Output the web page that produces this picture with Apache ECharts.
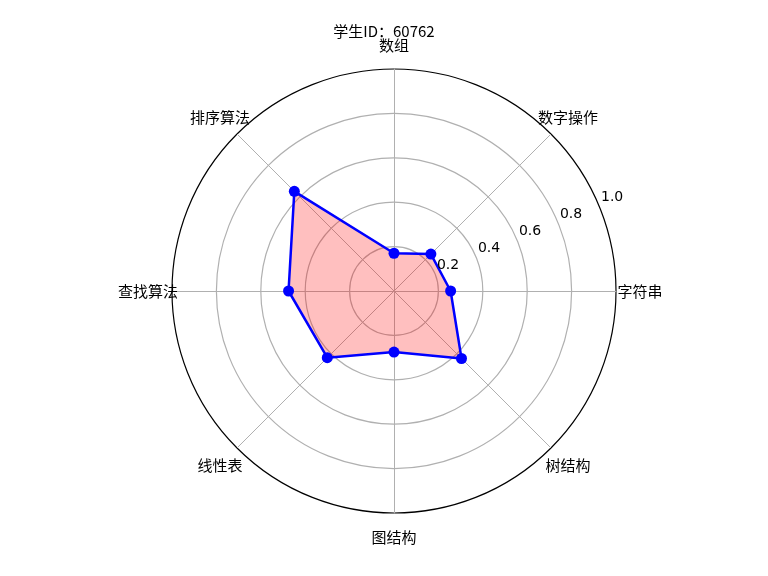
<!DOCTYPE html>
<html>
<head>
<meta charset="utf-8">
<script src="https://cdn.jsdelivr.net/npm/echarts@6/dist/echarts.min.js"></script>
<style>
    html, body { margin: 0; padding: 0; background: #fff; }
    #chart { width: 768px; height: 576px; }
</style>
</head>
<body>
<div id="chart"></div>
<script>
// 知识点（顺时针，从正上方开始）
var topics = ['数组', '数字操作', '字符串', '树结构', '图结构', '线性表', '查找算法', '排序算法'];
// 掌握程度
var scores = [0.17, 0.235, 0.255, 0.43, 0.275, 0.425, 0.475, 0.635];
// 半径刻度
var rTicks = [0.2, 0.4, 0.6, 0.8, 1.0];
var studentId = '60762';

// echarts 雷达图是逆时针排的，这里把顺序翻一下（第一个保持在正上方）
function ccw(arr) {
    return [arr[0]].concat(arr.slice(1).reverse());
}

var myChart = echarts.init(document.getElementById('chart'));

var cjk = '"Noto Sans CJK SC", "DejaVu Sans", sans-serif';

var option = {
    animation: false,
    title: {
        text: '学生ID：' + studentId,
        left: 'center',
        top: 19,
        textStyle: {
            fontFamily: cjk,
            fontSize: 15,
            fontWeight: 'normal',
            color: '#000'
        }
    },
    radar: {
        center: [394, 291],
        radius: 222,
        startAngle: 90,
        shape: 'circle',
        splitNumber: 5,
        nameGap: 24,
        indicator: ccw(topics).map(function (t) {
            return { name: t, min: 0, max: 1 };
        }),
        axisName: {
            color: '#000',
            fontFamily: cjk,
            fontSize: 15,
            align: 'center',
            verticalAlign: 'middle'
        },
        axisLine: {
            lineStyle: { color: '#b0b0b0', width: 1 }
        },
        splitLine: {
            lineStyle: {
                color: ['#b0b0b0', '#b0b0b0', '#b0b0b0', '#b0b0b0', '#b0b0b0', '#000000'],
                width: 1.2
            }
        },
        splitArea: { show: false }
    },
    // 只用来画半径刻度标签（22.5° 方向）
    polar: {
        center: [407, 282],
        radius: 222
    },
    angleAxis: {
        type: 'value',
        min: 0,
        max: 360,
        startAngle: 22.5,
        show: false
    },
    radiusAxis: {
        type: 'value',
        min: 0,
        max: 1,
        interval: 0.2,
        z: 10,
        axisLine: { show: false },
        axisTick: { show: false },
        splitLine: { show: false },
        axisLabel: {
            margin: 0,
            align: 'center',
            verticalAlign: 'middle',
            color: '#000',
            fontFamily: 'DejaVu Sans',
            fontSize: 14,
            formatter: function (v) {
                return rTicks.indexOf(Math.round(v * 10) / 10) >= 0 ? v.toFixed(1) : '';
            }
        }
    },
    series: [
        {
            // 填充
            type: 'radar',
            symbol: 'none',
            lineStyle: { width: 0, opacity: 0 },
            areaStyle: { color: '#ff0000', opacity: 0.25 },
            data: [
                { value: ccw(scores), name: studentId }
            ]
        },
        {
            // 折线 + 点，画在填充上面
            type: 'radar',
            symbol: 'circle',
            symbolSize: 11,
            itemStyle: { color: '#0000ff' },
            lineStyle: { color: '#0000ff', width: 2.5 },
            data: [
                { value: ccw(scores), name: studentId }
            ]
        }
    ]
};

myChart.setOption(option);
</script>
</body>
</html>
